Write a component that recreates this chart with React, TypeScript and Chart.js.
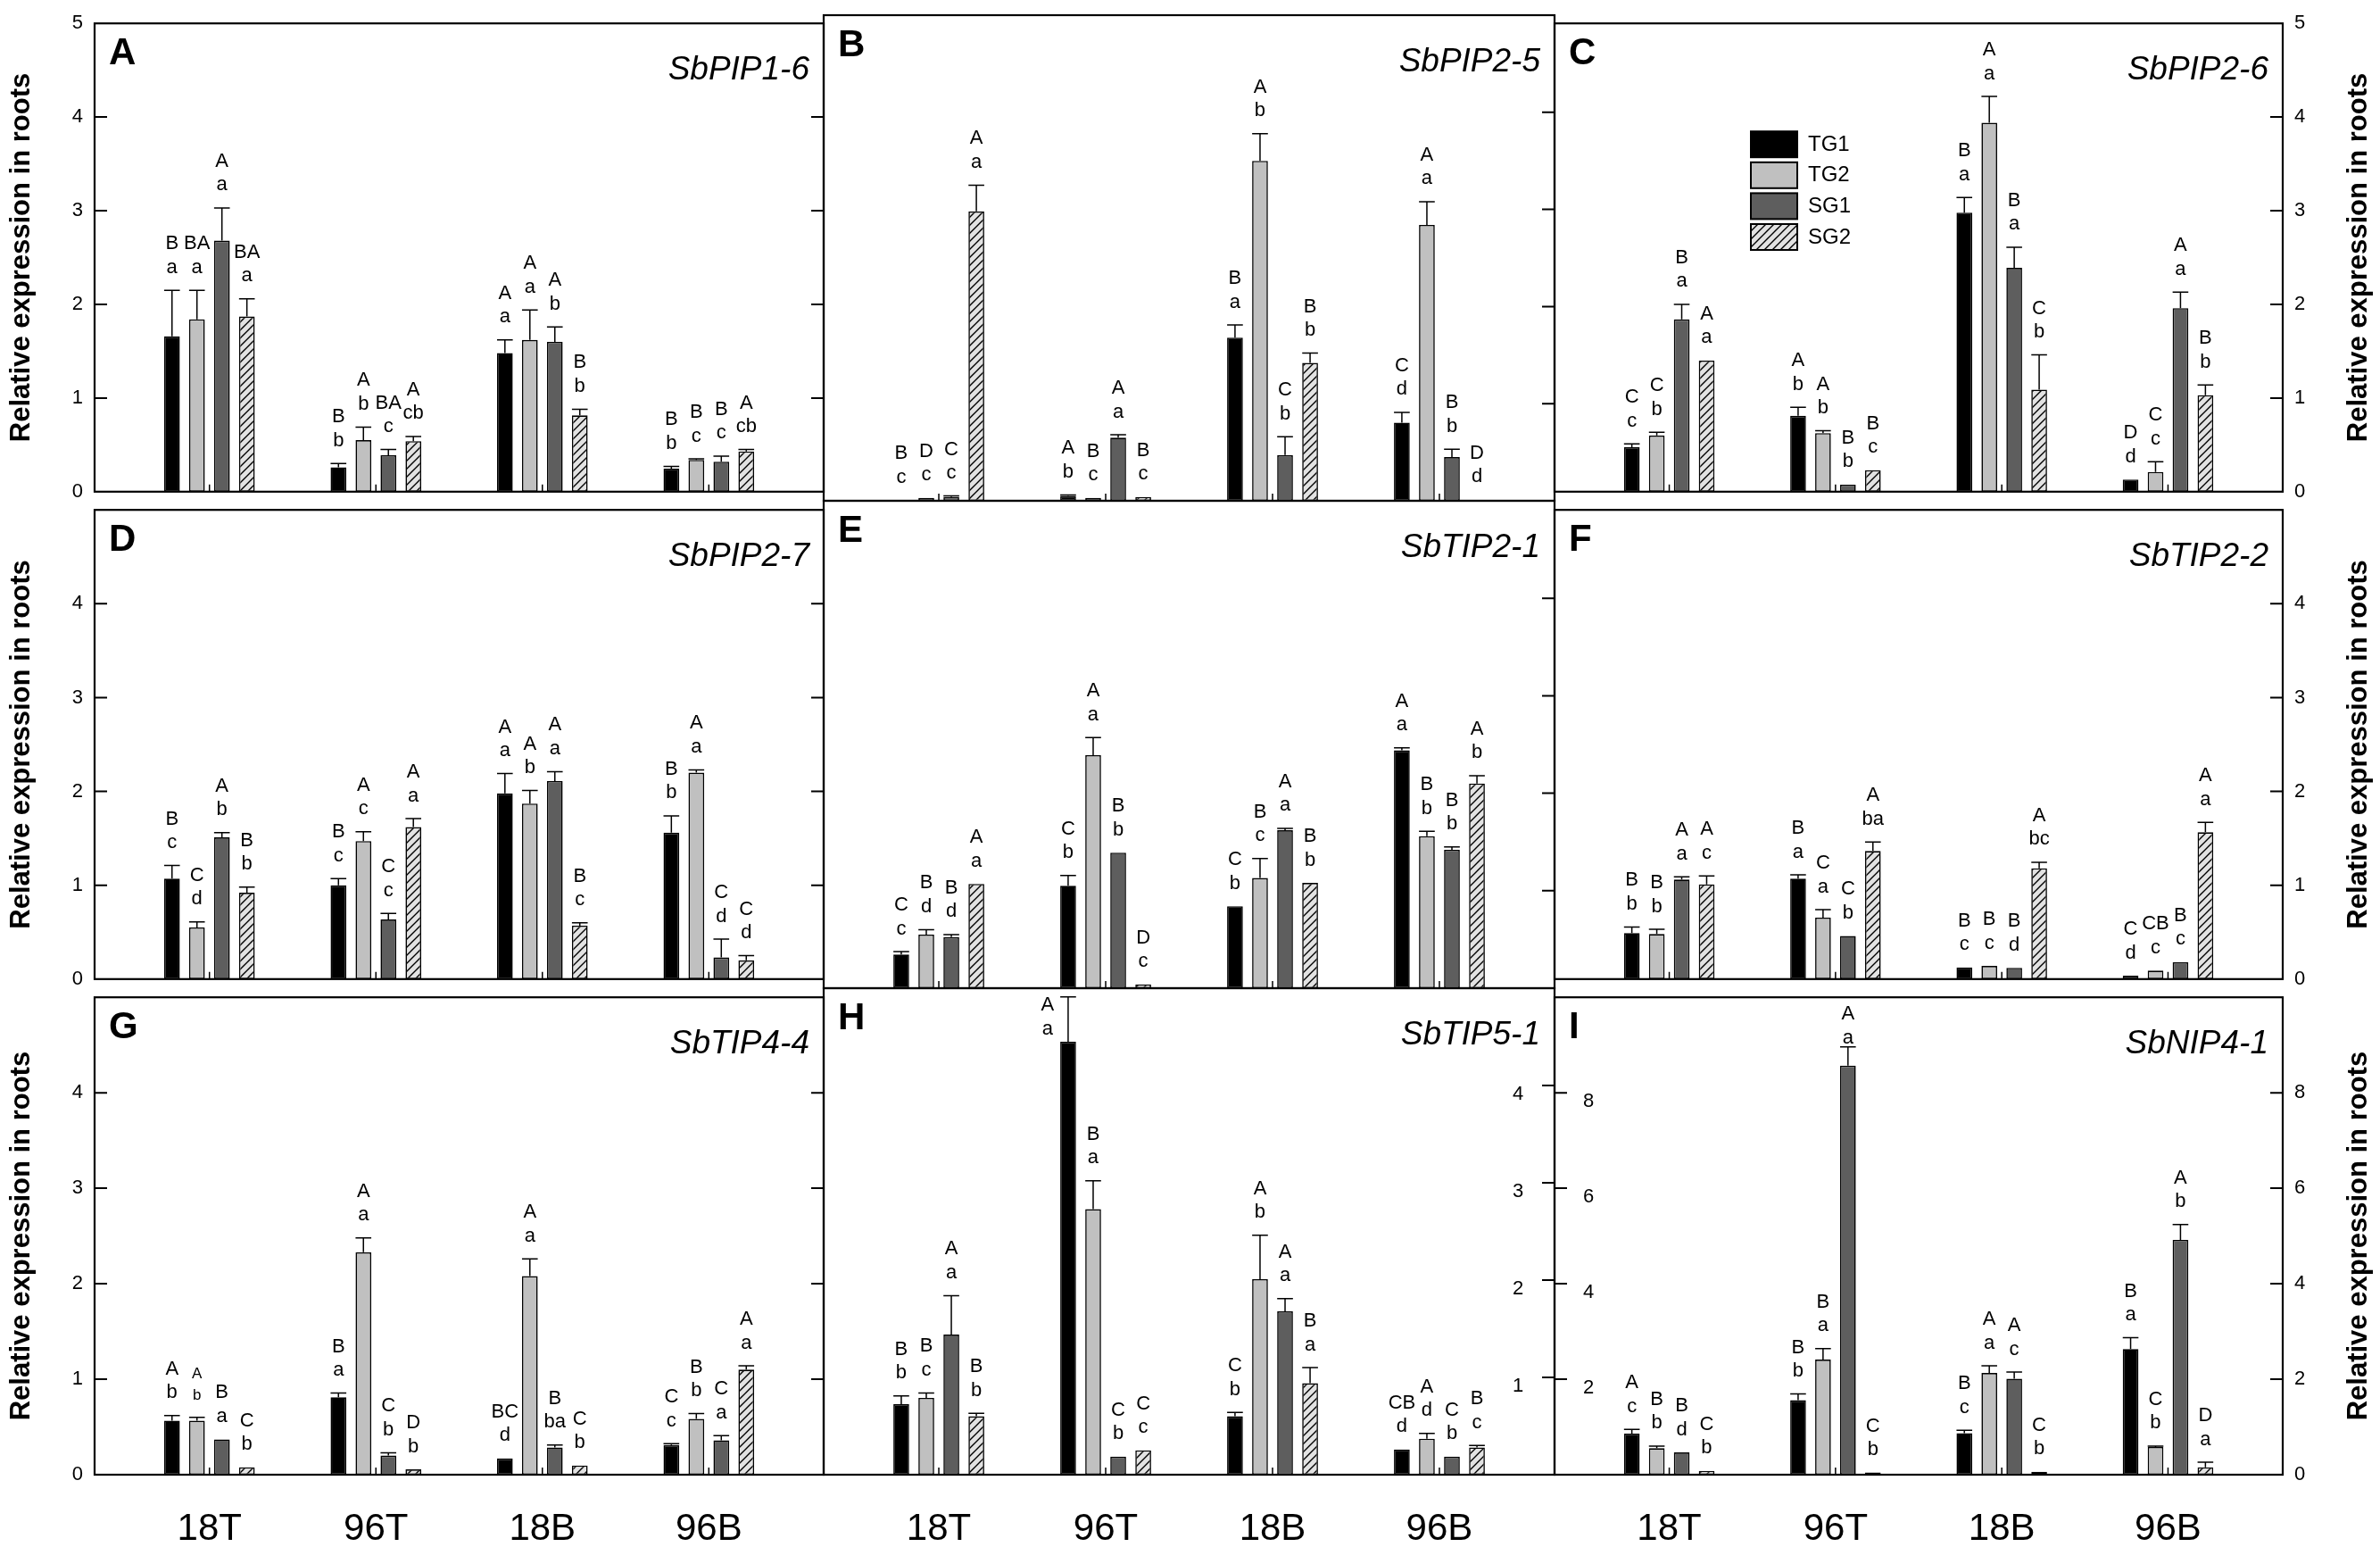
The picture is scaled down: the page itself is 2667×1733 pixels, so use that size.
import { useEffect, useRef } from 'react';
import { Chart, registerables } from 'chart.js';

Chart.register(...registerables);
Chart.defaults.font.family = "'Liberation Sans', Arial, sans-serif";
Chart.defaults.color = '#000';

if (typeof document !== 'undefined') document.body.style.margin = '0';

const groups = ['18T', '96T', '18B', '96B'];
const seriesNames = ['TG1', 'TG2', 'SG1', 'SG2'];

// one row per series (TG1, TG2, SG1, SG2), one column per group
// letters: "upper lower", a leading * marks the label printed in a smaller size
const pip16Mean = [[1.66, 0.26, 1.48, 0.245], [1.84, 0.55, 1.62, 0.34], [2.68, 0.39, 1.6, 0.32], [1.87, 0.54, 0.815, 0.43]];
const pip16Err = [[0.49, 0.04, 0.14, 0.025], [0.31, 0.14, 0.32, 0.01], [0.35, 0.06, 0.16, 0.06], [0.19, 0.05, 0.065, 0.02]];
const pip16Letters = [['B a', 'B b', 'A a', 'B b'], ['BA a', 'A b', 'A a', 'B c'], ['A a', 'BA c', 'A b', 'B c'], ['BA a', 'A cb', 'B b', 'A cb']];

const pip25Mean = [[0.005, 0.05, 1.68, 0.805], [0.03, 0.03, 3.5, 2.84], [0.04, 0.65, 0.47, 0.45], [2.98, 0.04, 1.42, 0.01]];
const pip25Err = [[0, 0.01, 0.13, 0.105], [0, 0, 0.28, 0.24], [0.01, 0.03, 0.19, 0.08], [0.27, 0, 0.1, 0]];
const pip25Letters = [['B c', 'A b', 'B a', 'C d'], ['D c', 'B c', 'A b', 'A a'], ['C c', 'A a', 'C b', 'B b'], ['A a', 'B c', 'B b', 'D d']];

const pip26Mean = [[0.475, 0.81, 2.98, 0.13], [0.6, 0.625, 3.94, 0.21], [1.84, 0.075, 2.39, 1.96], [1.4, 0.23, 1.09, 1.03]];
const pip26Err = [[0.035, 0.09, 0.16, 0], [0.035, 0.025, 0.28, 0.11], [0.16, 0, 0.22, 0.17], [0, 0, 0.37, 0.11]];
const pip26Letters = [['C c', 'A b', 'B a', 'D d'], ['C b', 'A b', 'A a', 'C c'], ['B a', 'B b', 'B a', 'A a'], ['A a', 'B c', 'C b', 'B b']];

const pip27Mean = [[1.07, 1.0, 1.98, 1.56], [0.55, 1.47, 1.87, 2.2], [1.51, 0.635, 2.11, 0.23], [0.92, 1.62, 0.57, 0.2]];
const pip27Err = [[0.14, 0.07, 0.21, 0.18], [0.06, 0.1, 0.14, 0.03], [0.05, 0.065, 0.1, 0.195], [0.06, 0.09, 0.03, 0.05]];
const pip27Letters = [['B c', 'B c', 'A a', 'B b'], ['C d', 'A c', 'A b', 'A a'], ['A b', 'C c', 'A a', 'C d'], ['B b', 'A a', 'B c', 'C d']];

const tip21Mean = [[0.345, 1.05, 0.84, 2.44], [0.55, 2.39, 1.13, 1.56], [0.525, 1.39, 1.62, 1.42], [1.07, 0.04, 1.08, 2.1]];
const tip21Err = [[0.03, 0.105, 0, 0.025], [0.05, 0.18, 0.2, 0.05], [0.025, 0, 0.02, 0.03], [0, 0, 0, 0.08]];
const tip21Letters = [['C c', 'C b', 'C b', 'A a'], ['B d', 'A a', 'B c', 'B b'], ['B d', 'B b', 'A a', 'B b'], ['A a', 'D c', 'B b', 'A b']];

const tip22Mean = [[0.49, 1.07, 0.125, 0.035], [0.48, 0.655, 0.14, 0.09], [1.06, 0.46, 0.12, 0.18], [1.01, 1.365, 1.18, 1.565]];
const tip22Err = [[0.065, 0.04, 0, 0], [0.05, 0.085, 0, 0], [0.03, 0, 0, 0], [0.09, 0.095, 0.065, 0.105]];
const tip22Letters = [['B b', 'B a', 'B c', 'C d'], ['B b', 'C a', 'B c', 'CB c'], ['A a', 'C b', 'B d', 'B c'], ['A c', 'A ba', 'A bc', 'A a']];

const tip44Mean = [[0.566, 0.81, 0.17, 0.31], [0.566, 2.33, 2.08, 0.585], [0.37, 0.2, 0.285, 0.36], [0.078, 0.055, 0.096, 1.1]];
const tip44Err = [[0.054, 0.045, 0, 0.015], [0.034, 0.15, 0.18, 0.055], [0, 0.03, 0.025, 0.05], [0, 0, 0, 0.04]];
const tip44Letters = [['A b', 'B a', 'BC d', 'C c'], ['*A b', 'A a', 'A a', 'B b'], ['B a', 'C b', 'B ba', 'C a'], ['C b', 'D b', 'C b', 'A a']];

const tip51Mean = [[0.725, 4.45, 0.6, 0.26], [0.79, 2.73, 2.01, 0.37], [1.44, 0.185, 1.68, 0.185], [0.6, 0.25, 0.94, 0.28]];
const tip51Err = [[0.085, 0.46, 0.04, 0], [0.05, 0.29, 0.45, 0.055], [0.4, 0, 0.13, 0], [0.03, 0, 0.16, 0.02]];
const tip51Letters = [['B b', 'A a', 'C b', 'CB d'], ['B c', 'B a', 'A b', 'A d'], ['A a', 'C b', 'A a', 'C b'], ['B b', 'C c', 'B a', 'B c']];

const nip41Mean = [[0.86, 1.56, 0.87, 2.63], [0.555, 2.41, 2.13, 0.58], [0.466, 8.57, 2.01, 4.92], [0.08, 0.045, 0.06, 0.155]];
const nip41Err = [[0.09, 0.13, 0.06, 0.24], [0.045, 0.23, 0.15, 0.02], [0, 0.39, 0.14, 0.32], [0, 0, 0, 0.105]];
const nip41Letters = [['A c', 'B b', 'B c', 'B a'], ['B b', 'B a', 'A a', 'C b'], ['B d', 'A a', 'A c', 'A b'], ['C b', 'C b', 'C b', 'D a']];

// stray axis numbers printed inside panels H and I
const tip51InnerTicks = [1, 2, 3, 4];
const nip41InnerTicks = [2, 4, 6, 8];

interface PanelDef {
  tag: string;
  gene: string;
  mean: number[][];
  err: number[][];
  letters: string[][];
  yMax: number;
  legend?: boolean;
  innerRight?: number[];
  innerLeft?: number[];
}

const panels: PanelDef[] = [
  { tag: 'A', gene: 'SbPIP1-6', mean: pip16Mean, err: pip16Err, letters: pip16Letters, yMax: 5 },
  { tag: 'B', gene: 'SbPIP2-5', mean: pip25Mean, err: pip25Err, letters: pip25Letters, yMax: 5 },
  { tag: 'C', gene: 'SbPIP2-6', mean: pip26Mean, err: pip26Err, letters: pip26Letters, yMax: 5, legend: true },
  { tag: 'D', gene: 'SbPIP2-7', mean: pip27Mean, err: pip27Err, letters: pip27Letters, yMax: 5 },
  { tag: 'E', gene: 'SbTIP2-1', mean: tip21Mean, err: tip21Err, letters: tip21Letters, yMax: 5 },
  { tag: 'F', gene: 'SbTIP2-2', mean: tip22Mean, err: tip22Err, letters: tip22Letters, yMax: 5 },
  { tag: 'G', gene: 'SbTIP4-4', mean: tip44Mean, err: tip44Err, letters: tip44Letters, yMax: 5 },
  { tag: 'H', gene: 'SbTIP5-1', mean: tip51Mean, err: tip51Err, letters: tip51Letters, yMax: 5, innerRight: tip51InnerTicks },
  { tag: 'I', gene: 'SbNIP4-1', mean: nip41Mean, err: nip41Err, letters: nip41Letters, yMax: 10, innerLeft: nip41InnerTicks },
];

const PAGE_W = 2667;
const PAGE_H = 1733;
const colEdges = [106, 923, 1742, 2558];
const rowEdges = [17, 561, 1107, 1652];
const M = 16;
const FONT = "'Liberation Sans', Arial, sans-serif";
const TITLE = 'Relative expression in roots';

function makeHatch() {
  const t = document.createElement('canvas');
  t.width = 9;
  t.height = 9;
  const g = t.getContext('2d')!;
  g.fillStyle = '#e2e2e2';
  g.fillRect(0, 0, 9, 9);
  g.strokeStyle = '#000';
  g.lineWidth = 1.4;
  g.beginPath();
  g.moveTo(-1, 10); g.lineTo(10, -1);
  g.moveTo(-1, 1); g.lineTo(1, -1);
  g.moveTo(8, 10); g.lineTo(10, 8);
  g.stroke();
  return g.createPattern(t, 'repeat')!;
}

function Panel({ index }: { index: number }) {
  const ref = useRef<HTMLCanvasElement>(null);
  const p = panels[index];
  const r = Math.floor(index / 3);
  const c = index % 3;
  const left = c === 0 ? 0 : colEdges[c] - M;
  const right = c === 2 ? PAGE_W : colEdges[c + 1] + M;
  const top = r === 0 ? 0 : rowEdges[r] - M;
  const bottom = r === 2 ? PAGE_H : rowEdges[r + 1] + M;
  const w = right - left;
  const h = bottom - top;

  useEffect(() => {
    if (!ref.current) return;
    const fills: (string | CanvasPattern)[] = ['#000000', '#c0c0c0', '#5e5e5e', makeHatch()];
    const step = p.yMax / 5;
    const tickVals = [1, 2, 3, 4].map((k) => k * step);

    const decor = {
      id: 'decor',
      afterDatasetsDraw(chart: any) {
        const { ctx, chartArea: a } = chart;
        const ys = chart.scales.y;
        const xs = chart.scales.x;
        ctx.save();
        ctx.strokeStyle = '#000';
        ctx.fillStyle = '#000';

        // error bars and significance letters
        for (let s = 0; s < 4; s++) {
          const meta = chart.getDatasetMeta(s);
          meta.data.forEach((el: any, g: number) => {
            const mean = p.mean[s][g];
            const e = p.err[s][g];
            const yBar = ys.getPixelForValue(mean);
            const yTop = ys.getPixelForValue(mean + e);
            const half = el.width / 2;
            if (e > 0) {
              ctx.lineWidth = 1.5;
              ctx.beginPath();
              ctx.moveTo(el.x, yBar);
              ctx.lineTo(el.x, yTop);
              ctx.moveTo(el.x - half, yTop);
              ctx.lineTo(el.x + half, yTop);
              ctx.stroke();
            }
            let txt = p.letters[s][g];
            const small = txt.startsWith('*');
            if (small) txt = txt.slice(1);
            const [up, low] = txt.split(' ');
            let lowBase = Math.max(yTop - 19.5, a.top + 51.5);
            let lx = el.x;
            if (lowBase > yTop - 3) {
              lx = el.x - 23;
              lowBase = a.top + 51.5;
            }
            ctx.font = `${small ? 17 : 22}px ${FONT}`;
            ctx.textAlign = 'center';
            ctx.textBaseline = 'alphabetic';
            ctx.fillText(low, lx, lowBase);
            ctx.fillText(up, lx, lowBase - (small ? 24 : 26.5));
          });
        }

        // frame
        ctx.lineWidth = 2.2;
        ctx.strokeRect(a.left, a.top, a.right - a.left, a.bottom - a.top);

        // inward ticks
        ctx.lineWidth = 2;
        ctx.beginPath();
        tickVals.forEach((v) => {
          const y = ys.getPixelForValue(v);
          ctx.moveTo(a.right - 14, y);
          ctx.lineTo(a.right, y);
          if (c === 0 || p.innerLeft) {
            ctx.moveTo(a.left, y);
            ctx.lineTo(a.left + 14, y);
          }
        });
        ctx.stroke();
        ctx.lineWidth = 1.5;
        ctx.beginPath();
        groups.forEach((_, g) => {
          const x = xs.getPixelForValue(g);
          ctx.moveTo(x, a.bottom);
          ctx.lineTo(x, a.bottom - 8);
        });
        ctx.stroke();

        // panel tag and gene name
        ctx.textBaseline = 'alphabetic';
        ctx.textAlign = 'left';
        ctx.font = `bold 42px ${FONT}`;
        ctx.fillText(p.tag, a.left + 16, a.top + 46);
        ctx.textAlign = 'right';
        ctx.font = `italic 37px ${FONT}`;
        ctx.fillText(p.gene, a.right - 16, a.top + 63);

        // stray inner numbers
        ctx.font = `22px ${FONT}`;
        ctx.textAlign = 'center';
        ctx.textBaseline = 'middle';
        (p.innerRight || []).forEach((v) => ctx.fillText(String(v), a.right - 41, ys.getPixelForValue(v) + 10));
        (p.innerLeft || []).forEach((v) => ctx.fillText(String(v), a.left + 38, ys.getPixelForValue(v) + 10));

        // legend
        if (p.legend) {
          chart.data.datasets.forEach((ds: any, i: number) => {
            const bx = a.left + 220;
            const by = a.top + 121 + i * 34.6;
            ctx.fillStyle = ds.backgroundColor;
            ctx.fillRect(bx, by, 52, 29);
            ctx.lineWidth = 2;
            ctx.strokeRect(bx, by, 52, 29);
            ctx.fillStyle = '#000';
            ctx.font = `24px ${FONT}`;
            ctx.textAlign = 'left';
            ctx.textBaseline = 'middle';
            ctx.fillText(ds.label, bx + 64, by + 15);
          });
        }

        // axis titles (read bottom to top on both sides)
        if (c !== 1) {
          const tx = c === 0 ? a.left - 73 : a.right + 94;
          ctx.translate(tx, (a.top + a.bottom) / 2);
          ctx.rotate(-Math.PI / 2);
          ctx.font = `bold 31px ${FONT}`;
          ctx.textAlign = 'center';
          ctx.textBaseline = 'alphabetic';
          ctx.fillText(TITLE, 0, 0);
        }
        ctx.restore();
      },
    };

    const chart = new Chart(ref.current, {
      type: 'bar',
      data: {
        datasets: seriesNames.map((name, s) => ({
          label: name,
          data: p.mean[s].map((v, g) => ({ x: g, y: v })),
          backgroundColor: fills[s] as any,
          borderColor: '#000',
          borderWidth: 1.6,
          borderSkipped: false,
          categoryPercentage: 0.6,
          barPercentage: 0.63,
        })),
      },
      options: {
        animation: false,
        responsive: false,
        devicePixelRatio: 1,
        events: [],
        layout: {
          padding: {
            left: c === 0 ? 0 : M,
            right: c === 2 ? 0 : M,
            top: r === 0 ? rowEdges[0] : M,
            bottom: r === 2 ? 0 : M,
          },
        },
        plugins: { legend: { display: false }, tooltip: { enabled: false } },
        scales: {
          x: {
            type: 'linear',
            min: -0.69,
            max: 3.69,
            offset: false,
            display: r === 2,
            grid: { display: false, drawTicks: false, offset: false },
            border: { display: false },
            afterBuildTicks: (s: any) => {
              s.ticks = groups.map((_, i) => ({ value: i }));
            },
            afterFit: (s: any) => {
              if (r === 2) s.height = PAGE_H - rowEdges[3];
            },
            ticks: {
              callback: (v: any) => groups[v] ?? '',
              font: { size: 42 },
              color: '#000',
              padding: 36,
              maxRotation: 0,
              autoSkip: false,
            },
          },
          y: {
            type: 'linear',
            min: 0,
            max: p.yMax,
            position: c === 2 ? 'right' : 'left',
            display: c !== 1,
            grid: { display: false, drawTicks: false },
            border: { display: false },
            afterFit: (s: any) => {
              if (c === 0) s.width = colEdges[0];
              if (c === 2) s.width = PAGE_W - colEdges[3];
            },
            ticks: {
              stepSize: step,
              callback: (v: any) => (r > 0 && v === p.yMax ? '' : String(v)),
              font: { size: 22 },
              color: '#000',
              padding: 13,
            },
          },
        },
      },
      plugins: [decor],
    });
    return () => chart.destroy();
  }, []);

  return (
    <canvas
      ref={ref}
      width={w}
      height={h}
      style={{ position: 'absolute', left, top, width: w, height: h }}
    />
  );
}

export default function App() {
  return (
    <div style={{ position: 'relative', width: PAGE_W, height: PAGE_H, background: '#fff', overflow: 'hidden' }}>
      {panels.map((_, i) => (
        <Panel key={i} index={i} />
      ))}
    </div>
  );
}
